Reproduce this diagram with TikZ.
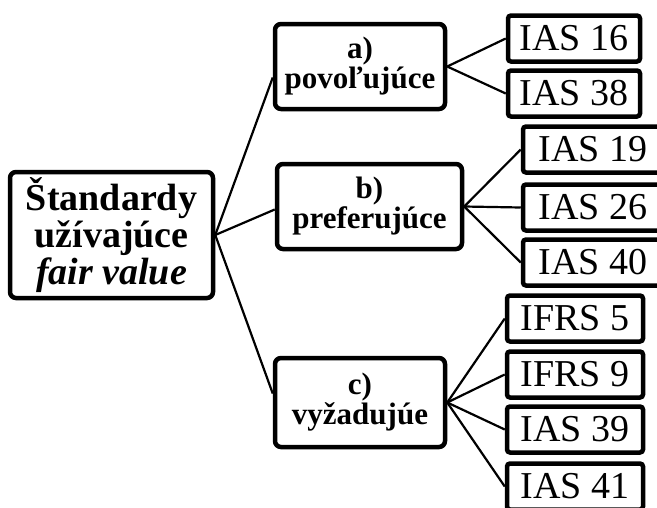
\documentclass[tikz,border=0pt]{standalone}
\usepackage{fontspec}
\setmainfont{Liberation Serif}
\begin{document}
\begin{tikzpicture}[x=1pt,y=-1pt,
    rootbox/.style={draw, line width=4.5pt, rounded corners=6pt, align=center,
      minimum width=203pt, minimum height=126pt, inner sep=0pt,
      font=\fontsize{38}{37}\selectfont\bfseries},
    groupbox/.style={draw, line width=4.5pt, rounded corners=6pt, align=center,
      minimum height=85pt, inner sep=0pt,
      font=\fontsize{31}{30}\selectfont\bfseries},
    leafbox/.style={draw, line width=4.5pt, rounded corners=3pt,
      minimum height=46pt, inner sep=0pt,
      font=\fontsize{38}{40}\selectfont},
    connector/.style={line width=2.2pt}]

    % Fix the page size
    \useasboundingbox (0,0) rectangle (657,507);
    \clip (0,0) rectangle (657,507);

    % Root and the three groups
    \node[rootbox] (root) at (111.5,235) {Štandardy\\užívajúce\\\textit{fair value}};
    \node[groupbox, minimum width=170pt] (a) at (360,66.5) {a)\\povoľujúce};
    \node[groupbox, minimum width=185pt] (b) at (369.5,206.5) {b)\\preferujúce};
    \node[groupbox, minimum width=170pt, minimum height=89pt] (c) at (360,402.5) {c)\\vyžadujúe};

    % Leaves of each group
    \foreach \name/\txt/\y in {ias16/IAS 16/38.5, ias38/IAS 38/93.5}
      \node[leafbox, minimum width=132pt] (\name) at (574,\y) {\txt};
    \foreach \name/\txt/\y in {ias19/IAS 19/149.5, ias26/IAS 26/207.5, ias40/IAS 40/262.5}
      \node[leafbox, minimum width=140pt] (\name) at (593,\y) {\txt};
    \foreach \name/\txt/\y in {ifrs5/IFRS 5/318.5, ifrs9/IFRS 9/374.5, ias39/IAS 39/429.5, ias41/IAS 41/486.5}
      \node[leafbox, minimum width=136pt] (\name) at (575,\y) {\txt};

    % Connectors
    \draw[connector] (root.east) -- ([yshift=-11pt]a.west);
    \draw[connector] (root.east) -- ([yshift=-3pt]b.west);
    \draw[connector] (root.east) -- ([yshift=9pt]c.west);
    \foreach \n in {ias16,ias38}
      \draw[connector] (a.east) -- (\n.west);
    \foreach \n in {ias19,ias26,ias40}
      \draw[connector] (b.east) -- (\n.west);
    \foreach \n in {ifrs5,ifrs9,ias39,ias41}
      \draw[connector] (c.east) -- (\n.west);
  \end{tikzpicture}
\end{document}
